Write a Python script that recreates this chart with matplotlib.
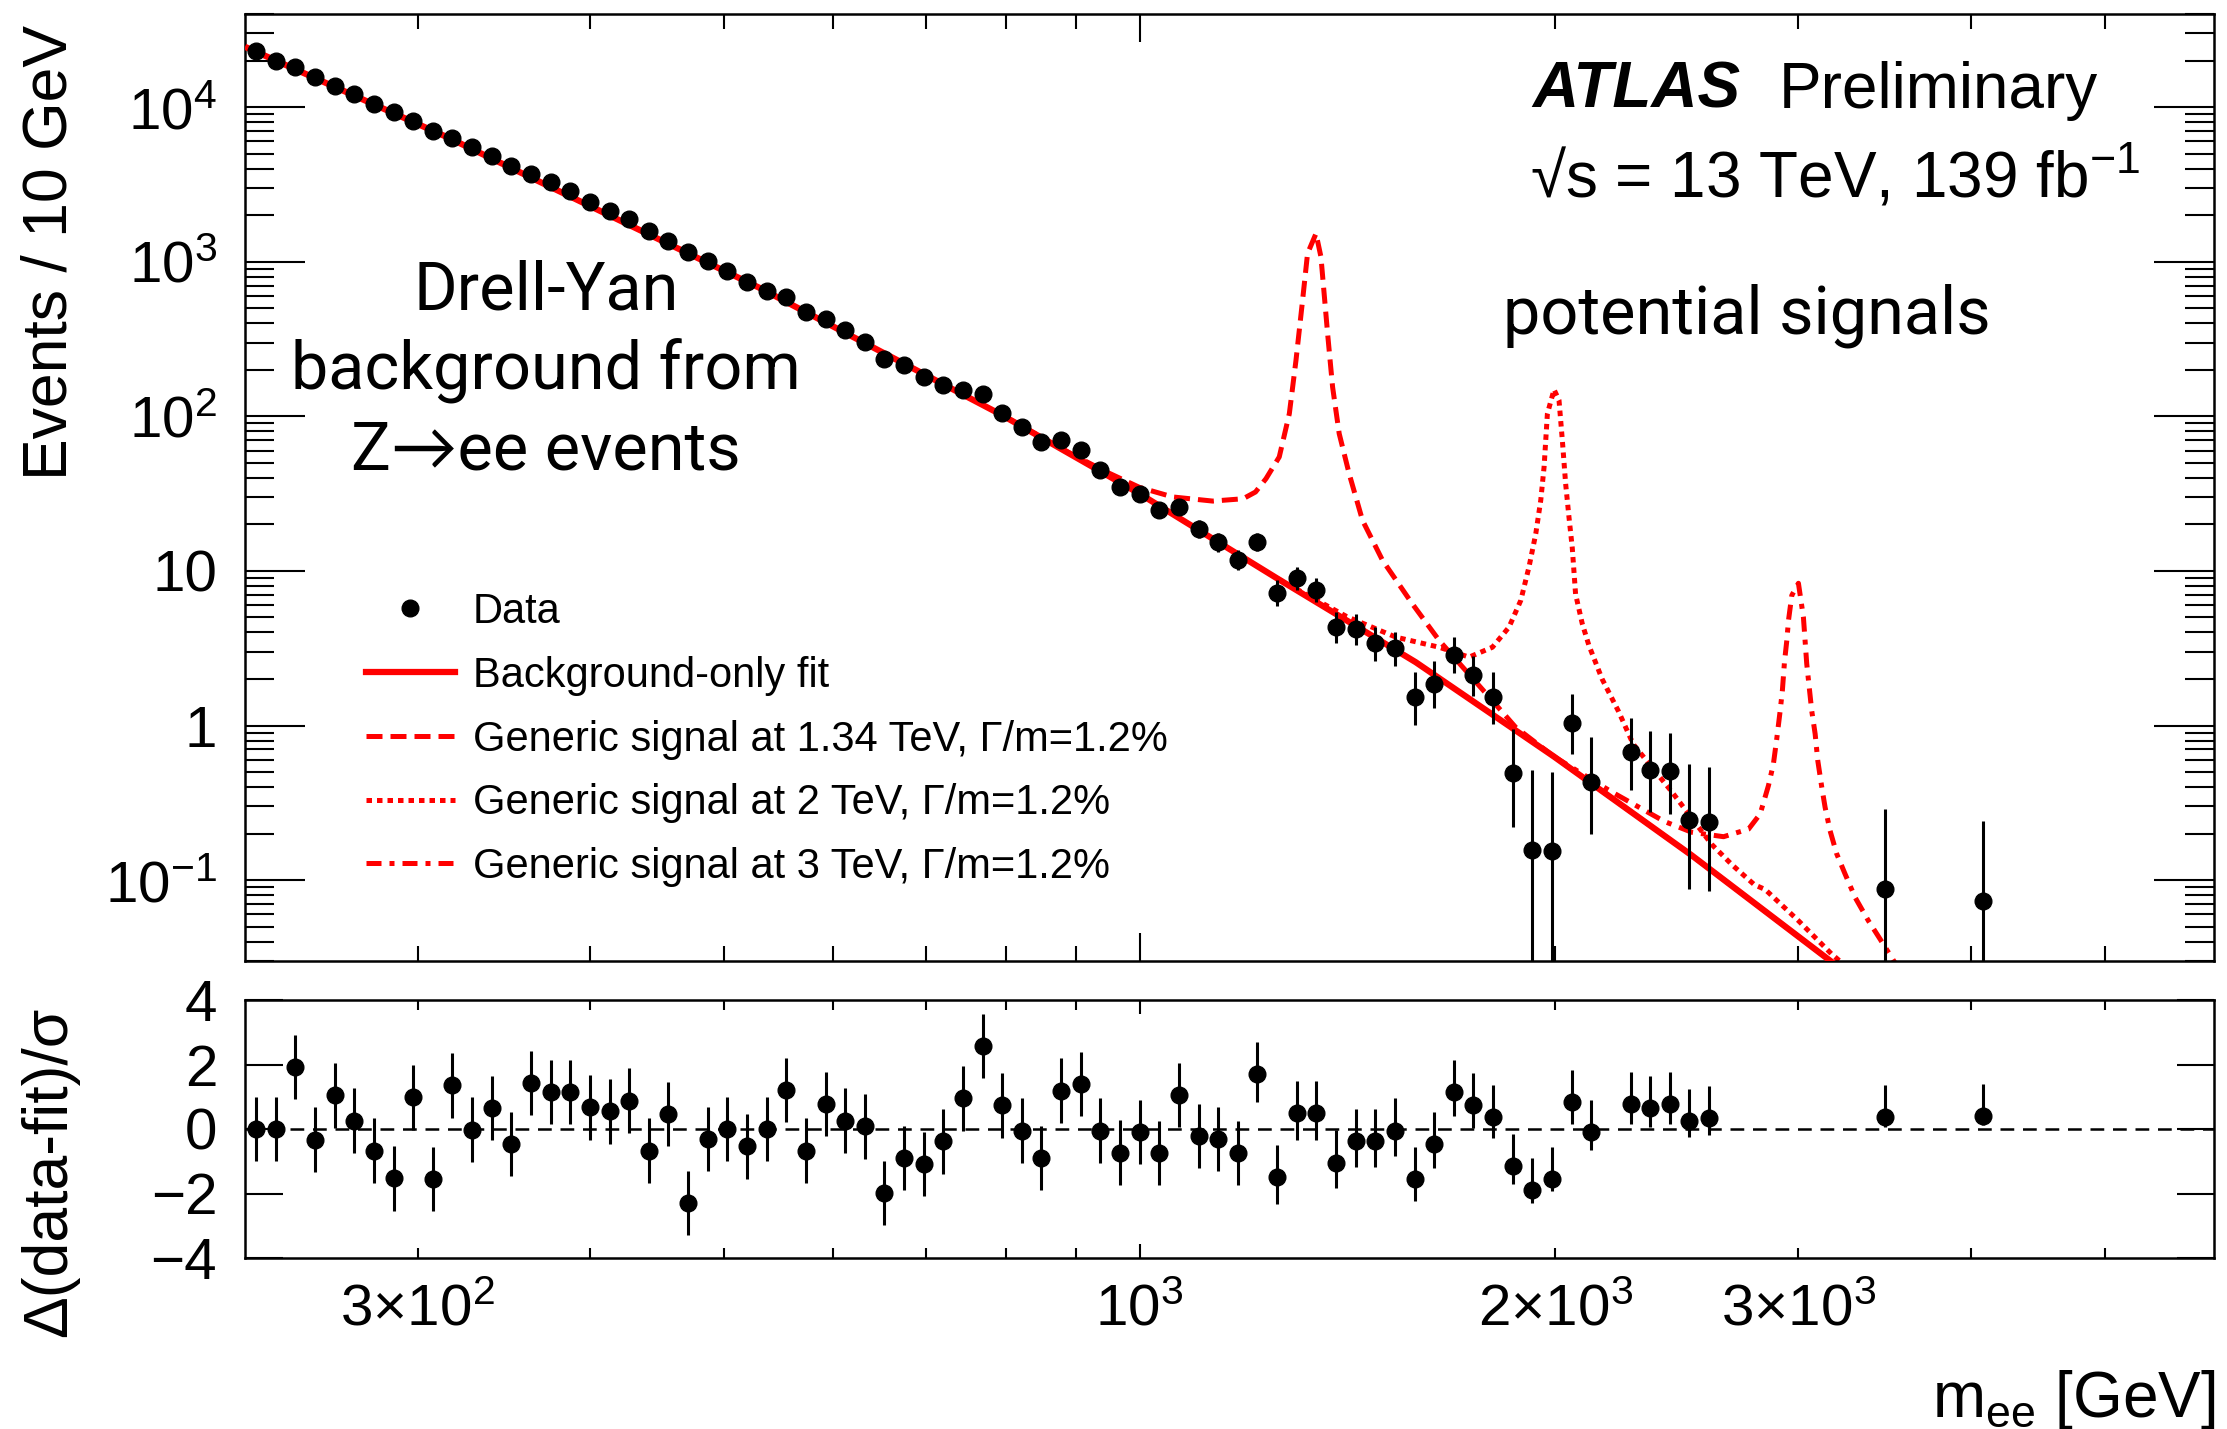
import matplotlib
matplotlib.use("Agg")
import matplotlib.pyplot as plt
from matplotlib.lines import Line2D
from matplotlib.ticker import FixedLocator, FixedFormatter, NullFormatter, LogLocator

plt.rcParams['font.family'] = ['Liberation Sans', 'DejaVu Sans']
plt.rcParams['mathtext.fontset'] = 'custom'
plt.rcParams['mathtext.rm'] = 'Liberation Sans'
plt.rcParams['mathtext.it'] = 'Liberation Sans:italic'
plt.rcParams['mathtext.bf'] = 'Liberation Sans:bold'
plt.rcParams['mathtext.sf'] = 'Liberation Sans'

# ---------------- data ----------------
mass = [229.2, 236.8, 244.7, 252.9, 261.3, 270.0, 279.0, 288.3, 297.9, 307.8,
        318.0, 328.6, 339.5, 350.8, 362.5, 374.6, 387.1, 400.0, 413.3, 427.0,
        441.2, 455.9, 471.1, 486.8, 503.0, 519.7, 537.0, 554.9, 573.4, 592.5,
        612.2, 632.5, 653.6, 675.3, 697.8, 721.0, 745.0, 769.8, 795.4, 821.9,
        849.2, 877.5, 906.7, 936.9, 968.1, 1000.3, 1033.6, 1068.0, 1103.5, 1140.3,
        1178.2, 1217.4, 1257.9, 1299.8, 1343.1, 1387.8, 1434.0, 1481.8, 1531.1, 1582.1,
        1634.7, 1689.1, 1745.3, 1803.4, 1863.4, 1925.4, 1989.5, 2055.7, 2124.1,
        2267.8, 2343.3, 2421.3, 2501.9, 2585.2, 3467.0, 4083.0]

events = [22960, 19950, 18070, 15560, 13740, 12130, 10450, 9247, 8072, 7031,
          6295, 5483, 4842, 4169, 3681, 3258, 2871, 2415, 2133, 1884,
          1581, 1365, 1164, 1012, 871, 740, 647, 592, 473, 429,
          361, 303, 236, 214, 179.5, 158.9, 147.2, 138.7, 105.0, 85.3,
          68.2, 70.0, 60.3, 44.7, 34.8, 31.6, 24.7, 25.9, 18.75, 15.35,
          11.8, 15.4, 7.19, 9.03, 7.55, 4.37, 4.22, 3.43, 3.18, 1.53,
          1.86, 2.88, 2.11, 1.53, 0.491, 0.157, 0.154, 1.035, 0.430,
          0.672, 0.516, 0.506, 0.245, 0.237, 0.0877, 0.0737]

events_err_lo = [0.0] * 46 + [2.7, 2.7, 2.3, 2.0, 1.7, 1.95, 1.30, 1.55, 1.30, 0.95,
                              0.92, 0.80, 0.76, 0.52, 0.57, 0.70, 0.55, 0.51, 0.27, 0.1569,
                              0.1539, 0.38, 0.23, 0.29, 0.24, 0.24, 0.157, 0.152, 0.0876, 0.0736]
events_err_hi = [0.0] * 46 + [2.9, 2.9, 2.5, 2.2, 1.9, 2.15, 1.49, 1.56, 1.45, 1.05,
                              1.02, 0.90, 0.85, 0.70, 0.75, 0.87, 0.72, 0.68, 0.46, 0.36,
                              0.345, 0.56, 0.41, 0.45, 0.41, 0.39, 0.32, 0.306, 0.201, 0.169]

pull = [0.0, 0.0, 1.92, -0.33, 1.04, 0.26, -0.67, -1.53, 0.98, -1.55,
        1.35, -0.02, 0.65, -0.47, 1.43, 1.14, 1.14, 0.67, 0.55, 0.88,
        -0.67, 0.47, -2.30, -0.31, 0.0, -0.54, 0.0, 1.21, -0.67, 0.78,
        0.26, 0.08, -1.99, -0.90, -1.09, -0.38, 0.95, 2.57, 0.73, -0.05,
        -0.90, 1.19, 1.40, -0.05, -0.73, -0.10, -0.75, 1.06, -0.21, -0.31,
        -0.75, 1.71, -1.50, 0.50, 0.50, -1.04, -0.38, -0.38, -0.05, -1.55,
        -0.47, 1.14, 0.73, 0.36, -1.16, -1.90, -1.55, 0.83, -0.10,
        0.78, 0.65, 0.76, 0.24, 0.34, 0.36, 0.41]
pull_err_lo = [1.0] * 51 + [0.88, 0.83, 0.85, 0.85, 0.8, 0.8, 0.8, 0.8, 0.67, 0.75,
                            0.75, 0.7, 0.65, 0.55, 0.38, 0.36, 0.67, 0.54,
                            0.64, 0.6, 0.62, 0.5, 0.52, 0.3, 0.3]
pull_err_hi = [1.0] * 76

fit_mass = [225, 316.2, 530.9, 794.3, 1000, 1258.9, 1584.9, 1995.3, 2511.9, 3162.3, 3548.1]
fit_events = [24550, 6310, 676, 102.3, 31.6, 8.91, 2.57, 0.631, 0.1445, 0.0302, 0.0135]

sig134_mass = [794.3, 891.3, 946.2, 1000, 1056.8, 1129.8, 1188.5, 1213.4, 1234.8, 1262.4,
               1283.8, 1298.1, 1312.5, 1323.4, 1342.2, 1353.3, 1368.4, 1379.8, 1395.1, 1418.4,
               1450.5, 1499.7, 1576.2, 1648.2, 1722.7, 1800.9, 1872.3, 1995.3, 2511.9, 3162.3, 3548.1]
sig134_events = [102.3, 57.5, 43.7, 34.7, 30.1, 28.3, 29.3, 32.4, 39.5, 54.6,
                 104, 230, 564, 1130, 1521, 1074, 343, 155, 77.3, 42.6,
                 21.2, 11.7, 6.12, 3.55, 2.27, 1.45, 0.975, 0.631, 0.1445, 0.0302, 0.0135]

sig2_mass = [1258.9, 1412.5, 1533.5, 1648.1, 1732.5, 1801.3, 1851.8, 1888.4, 1914.5, 1936.3,
             1952.4, 1963.3, 1974.2, 1996.2, 2012.8, 2024.0, 2035.2, 2046.5, 2057.8, 2069.2,
             2092.2, 2115.4, 2162.7, 2223.3, 2277.7, 2350.1, 2430.0, 2511.9, 2597.0, 2685.2,
             2788.5, 2838.4, 3000.3, 3171.0, 3548.1]
sig2_events = [8.91, 5.07, 3.73, 3.21, 2.77, 3.21, 4.33, 6.44, 10.6, 17.4,
               28.6, 47.0, 104, 149, 127, 70.0, 36.6, 22.3, 14.1, 7.08,
               4.57, 3.31, 2.0, 1.23, 0.759, 0.537, 0.372, 0.251, 0.170, 0.126,
               0.0933, 0.0871, 0.0547, 0.0333, 0.0141]

sig3_mass = [1995.3, 2197.8, 2398.8, 2511.9, 2648.4, 2761.1, 2815.0, 2854.2, 2877.9, 2893.9,
             2910.6, 2921.3, 2931.4, 2942.9, 2951.2, 2967.5, 3000.5, 3025.5, 3042.3, 3067.6,
             3085.3, 3098.8, 3119.6, 3136.9, 3163.0, 3198.2, 3242.7, 3297.7, 3371.4, 3438.1,
             3505.2, 3630.8]
sig3_events = [0.631, 0.372, 0.240, 0.204, 0.191, 0.214, 0.268, 0.409, 0.565, 0.820,
               1.25, 1.69, 2.57, 3.55, 4.79, 6.95, 8.32, 5.02, 2.51, 1.25,
               0.883, 0.594, 0.399, 0.296, 0.209, 0.148, 0.110, 0.0774, 0.0547, 0.0416,
               0.0316, 0.0191]

y_major_ticks = [0.1, 1, 10, 100, 1000, 10000]
y_major_labels = [r'$\mathregular{10^{-1}}$', '1', '10', r'$\mathregular{10^{2}}$',
                  r'$\mathregular{10^{3}}$', r'$\mathregular{10^{4}}$']
x_major_ticks = [1000]
x_major_labels = [r'$\mathregular{10^{3}}$']
x_minor_ticks = [300, 400, 500, 600, 700, 800, 900, 2000, 3000, 4000, 5000]
x_minor_labels = [r'$\mathregular{3{\times}10^{2}}$', '', '', '', '', '', '',
                  r'$\mathregular{2{\times}10^{3}}$', r'$\mathregular{3{\times}10^{3}}$', '', '']
pull_ticks = [-4, -2, 0, 2, 4]
pull_labels = ['\u22124', '\u22122', '0', '2', '4']

legend_labels = ['Data', 'Background-only fit',
                 'Generic signal at 1.34 TeV, \u0393/m=1.2%',
                 'Generic signal at 2 TeV, \u0393/m=1.2%',
                 'Generic signal at 3 TeV, \u0393/m=1.2%']

# ---------------- figure ----------------
W, H = 2227, 1429
fig = plt.figure(figsize=(W / 100, H / 100), dpi=100)


def rect(l, t, r, b):
    return [l / W, 1 - b / H, (r - l) / W, (b - t) / H]


ax1 = fig.add_axes(rect(245, 14, 2214, 961))
ax2 = fig.add_axes(rect(245, 1000, 2214, 1258))

RED = '#ff0000'
lw_sig = 3.6
ls_dash = (0, (3.2, 1.6))
ls_dot = (0, (1.1, 1.0))
ls_dashdot = (0, (3.0, 1.6, 1.0, 1.6))

ax1.plot(sig134_mass, sig134_events, color=RED, lw=lw_sig, ls=ls_dash, zorder=2)
ax1.plot(sig2_mass, sig2_events, color=RED, lw=lw_sig, ls=ls_dot, zorder=2)
ax1.plot(sig3_mass, sig3_events, color=RED, lw=lw_sig, ls=ls_dashdot, zorder=2)
ax1.plot(fit_mass, fit_events, color=RED, lw=4.5, zorder=3, solid_capstyle='butt')
ax1.errorbar(mass, events, yerr=[events_err_lo, events_err_hi], fmt='o', color='black',
             ms=12, elinewidth=2.2, capsize=0, zorder=4)

ax1.set_xscale('log')
ax1.set_yscale('log')
ax1.set_xlim(225, 6000)
ax1.set_ylim(0.03, 4e4)

ax2.axhline(0, color='black', lw=1.8, ls=(0, (5.5, 3.5)), zorder=1)
ax2.errorbar(mass, pull, yerr=[pull_err_lo, pull_err_hi], fmt='o', color='black',
             ms=12, elinewidth=2.2, capsize=0, zorder=3)
ax2.set_xscale('log')
ax2.set_xlim(225, 6000)
ax2.set_ylim(-4, 4)

for ax in (ax1, ax2):
    ax.xaxis.set_major_locator(FixedLocator(x_major_ticks))
    ax.xaxis.set_minor_locator(FixedLocator(x_minor_ticks))
    for s in ax.spines.values():
        s.set_linewidth(1.8)

ax1.xaxis.set_major_formatter(NullFormatter())
ax1.xaxis.set_minor_formatter(NullFormatter())
ax1.yaxis.set_major_locator(FixedLocator(y_major_ticks))
ax1.yaxis.set_major_formatter(FixedFormatter(y_major_labels))
ax1.yaxis.set_minor_locator(LogLocator(base=10, subs=[2, 3, 4, 5, 6, 7, 8, 9], numticks=20))
ax1.yaxis.set_minor_formatter(NullFormatter())

ax1.tick_params(axis='y', which='major', direction='in', length=43, width=1.5,
                left=True, right=True, labelsize=42, pad=20)
ax1.tick_params(axis='y', which='minor', direction='in', length=21, width=1.5,
                left=True, right=True)
ax1.tick_params(axis='x', which='major', direction='in', length=20, width=1.5,
                top=True, bottom=True, labelbottom=False)
ax1.tick_params(axis='x', which='minor', direction='in', length=11, width=1.5,
                top=True, bottom=True, labelbottom=False)

ax2.xaxis.set_major_formatter(FixedFormatter(x_major_labels))
ax2.xaxis.set_minor_formatter(FixedFormatter(x_minor_labels))
ax2.yaxis.set_major_locator(FixedLocator(pull_ticks))
ax2.yaxis.set_major_formatter(FixedFormatter(pull_labels))
ax2.tick_params(axis='y', which='major', direction='in', length=27, width=1.5,
                left=True, right=True, labelsize=42, pad=20)
ax2.tick_params(axis='x', which='major', direction='in', length=10, width=1.5,
                top=True, bottom=True, labelsize=42, pad=18)
ax2.tick_params(axis='x', which='minor', direction='in', length=7, width=1.5,
                top=True, bottom=True, labelsize=42, pad=18)

# axis titles
fig.text(50 / W, 1 - 252 / H, 'Events / 10 GeV', rotation=90, ha='center', va='center',
         fontsize=45)
fig.text(50 / W, 1 - 1172 / H, '\u0394(data-fit)/\u03c3', rotation=90, ha='center',
         va='center', fontsize=45)
fig.text(2216 / W, 1 - 1417 / H, r'm$_{\mathregular{ee}}$ [GeV]', ha='right',
         va='baseline', fontsize=46)

# ATLAS label
fig.text(1532 / W, 1 - 108 / H, 'ATLAS', fontsize=46, fontweight='bold', fontstyle='italic',
         ha='left', va='baseline')
fig.text(1779 / W, 1 - 108 / H, 'Preliminary', fontsize=46, ha='left', va='baseline')
fig.text(1530 / W, 1 - 197 / H, '\u221as = 13 TeV, 139 fb$^{\\mathregular{-1}}$',
         fontsize=46, ha='left', va='baseline')

# annotations
light = dict(family=['Roboto', 'Lato', 'DejaVu Sans'], fontweight='normal', fontsize=48)
fig.text(546 / W, 1 - 310 / H, 'Drell-Yan', ha='center', va='baseline', **light)
fig.text(546 / W, 1 - 390 / H, 'background from', ha='center', va='baseline', **light)
fig.text(546 / W, 1 - 470 / H, 'Z\u2192ee events', ha='center', va='baseline', **light)
fig.text(1503 / W, 1 - 333 / H, 'potential signals', ha='left', va='baseline', **light)

# legend
handles = [Line2D([], [], marker='o', color='black', ls='none', ms=12),
           Line2D([], [], color=RED, lw=4.5),
           Line2D([], [], color=RED, lw=lw_sig, ls=ls_dash),
           Line2D([], [], color=RED, lw=lw_sig, ls=ls_dot),
           Line2D([], [], color=RED, lw=lw_sig, ls=ls_dashdot)]
ax1.legend(handles, legend_labels, loc='upper left', bbox_to_anchor=(366 / W, 1 - 592 / H),
           bbox_transform=fig.transFigure, frameon=False, fontsize=30, borderpad=0,
           borderaxespad=0, handlelength=2.13, handletextpad=0.43, labelspacing=0.57)

fig.savefig('out.png', dpi=100)
